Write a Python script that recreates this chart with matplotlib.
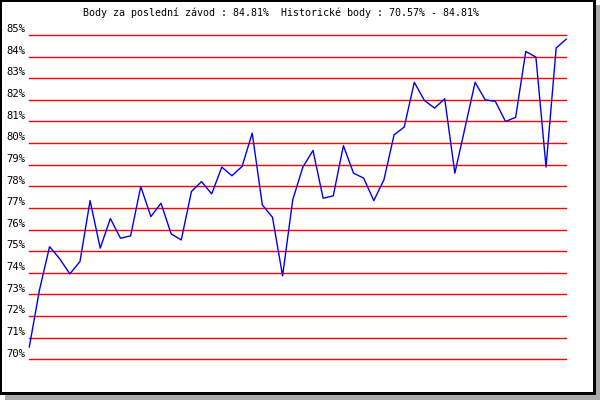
import matplotlib
matplotlib.use("Agg")
import matplotlib.pyplot as plt
from matplotlib.patches import Rectangle

title = "Body za poslední závod : 84.81%  Historické body : 70.57% - 84.81%"
tick_values = list(range(70, 86))
tick_labels = [f"{v}%" for v in tick_values]
points = [70.57, 73.2, 75.21, 74.65, 73.95, 74.52, 77.34, 75.14, 76.51, 75.6,
          75.71, 77.99, 76.6, 77.22, 75.8, 75.52, 77.76, 78.22, 77.65, 78.89,
          78.49, 78.92, 80.46, 77.14, 76.57, 73.86, 77.38, 78.89, 79.66, 77.45,
          77.56, 79.88, 78.61, 78.38, 77.34, 78.3, 80.38, 80.74, 82.81, 81.97,
          81.62, 82.05, 78.61, 80.7, 82.81, 82.0, 81.93, 81.0, 81.19, 84.24,
          83.98, 78.89, 84.4, 84.81]

W, H = 600, 400
fig = plt.figure(figsize=(W / 100, H / 100), dpi=100)
fig.patch.set_facecolor("white")

def rect(x0, y0, x1, y1, color, z):
    # pixel coords with origin at top-left
    fig.patches.append(Rectangle((x0 / W, 1 - y1 / H), (x1 - x0) / W, (y1 - y0) / H,
                                 transform=fig.transFigure, facecolor=color,
                                 edgecolor="none", zorder=z))

rect(5, 5, 600, 400, "#aaaaaa", 0)
rect(0, 0, 596, 395, "black", 1)
rect(2, 2, 593, 392, "white", 2)

left_px, right_px = 29.3, 566.3
top_px, bottom_px = 35.0, 359.3
ax = fig.add_axes([left_px / W, 1 - bottom_px / H, (right_px - left_px) / W,
                   (bottom_px - top_px) / H])
ax.set_zorder(5)
ax.patch.set_alpha(0)
ax.set_xlim(0, len(points) - 1)
ax.set_ylim(70, 85)
for s in ax.spines.values():
    s.set_visible(False)
ax.set_xticks([])
ax.set_yticks([])

for v, lab in zip(tick_values, tick_labels):
    ax.axhline(v, color="red", lw=1.0, clip_on=False, zorder=1)
    ax.annotate(lab, xy=(0, v), xycoords=("axes fraction", "data"),
                xytext=(-2.5, 2), textcoords="offset points", ha="right",
                va="baseline", fontsize=7.6, family="DejaVu Sans Mono", color="black")

ax.plot(range(len(points)), points, color="#0000ee", lw=1.0, clip_on=False, zorder=3)

fig.text(281 / W, 1 - 13 / H, title, ha="center", va="center", fontsize=7.2,
         family="DejaVu Sans Mono", color="black", zorder=6)

fig.savefig("out.png", dpi=100)
